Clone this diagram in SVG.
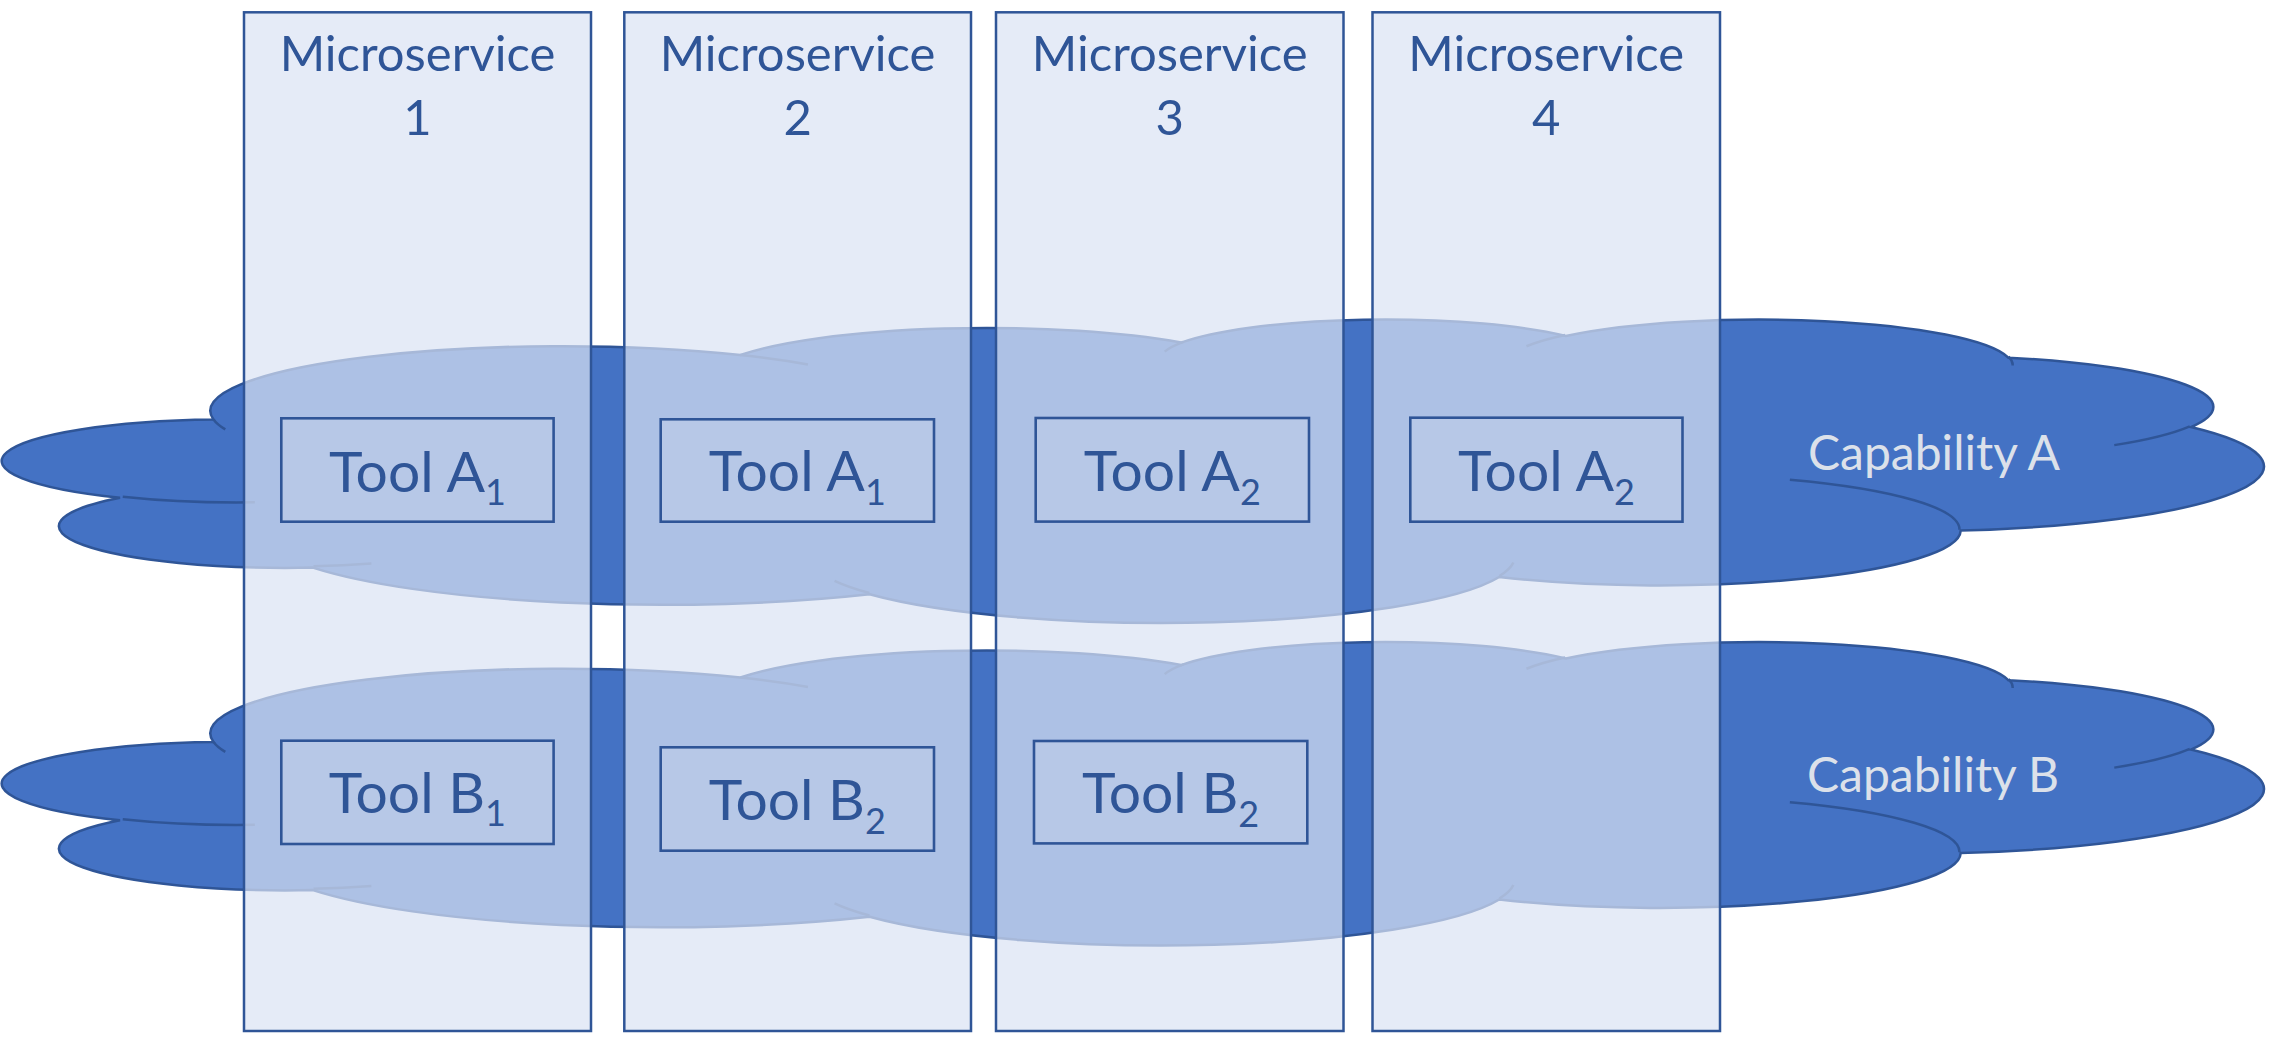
<svg xmlns="http://www.w3.org/2000/svg" width="2272" height="1042" viewBox="0 0 2272 1042">
<defs>
<style>
.cloud{fill:#4472C4;stroke:#2F5597;stroke-width:2.5;stroke-linejoin:miter}
.cloudline{fill:none;stroke:#2F5597;stroke-width:2.5}
.col{fill:#DAE3F3;fill-opacity:0.7;stroke:#2F5597;stroke-width:2.5}
.tool{fill:#DAE3F3;fill-opacity:0.22;stroke:#2F5597;stroke-width:2.6}
.ms{font-family:Lato,"Liberation Sans",sans-serif;font-size:49px;fill:#2F5597;text-anchor:middle}
.tt{font-family:Lato,"Liberation Sans",sans-serif;font-size:57px;fill:#2F5597;text-anchor:middle}
.sub{font-size:36px}
.cap{font-family:Lato,"Liberation Sans",sans-serif;font-size:48px;fill:#DCE1EA;text-anchor:middle}
</style>
</defs>
<rect width="2272" height="1042" fill="#FFFFFF"/>

<g id="capability-a">
<g transform="translate(10.1 318.5) scale(0.052148 0.0070226)">
<path class="cloud" vector-effect="non-scaling-stroke" d="M3900 14370 A6753 9190 0 0 1 14005 5202 A5333 7267 0 0 1 22456 3432 A4365 5945 0 0 1 29833 2480 A4857 6595 0 0 1 38318 5576 A5333 7273 0 0 1 41819 15459 A6775 9220 0 0 1 37405 30203 A5785 7867 0 0 1 28556 36813 A6752 9215 0 0 1 16481 39264 A7720 10543 0 0 1 5805 35470 A4360 5936 0 0 1 2108 25525 A4345 5945 0 0 1 3900 14370 Z"/>
<path class="cloudline" vector-effect="non-scaling-stroke" d="M4693 26177 A4345 5945 0 0 1 2160 25380 M6928 34899 A4360 5936 0 0 1 5817 35284 M16478 39090 A6752 9215 0 0 1 15810 37350 M28827 34751 A6752 9215 0 0 1 28560 36660 M34129 22954 A5785 7867 0 0 1 37381 30090 M41798 15354 A5333 7273 0 0 1 40350 18030 M38324 5426 A4857 6595 0 0 1 38401 6690 M29078 3952 A4857 6595 0 0 1 29820 2340 M22141 4720 A4365 5945 0 0 1 22500 3330 M14000 5192 A6753 9190 0 0 1 15300 6541 M4127 15789 A6753 9190 0 0 1 3900 14370"/>
</g>
<text class="cap" x="1934" y="470">Capability A</text>
</g>

<g id="capability-b">
<g transform="translate(10.1 641) scale(0.052148 0.0070226)">
<path class="cloud" vector-effect="non-scaling-stroke" d="M3900 14370 A6753 9190 0 0 1 14005 5202 A5333 7267 0 0 1 22456 3432 A4365 5945 0 0 1 29833 2480 A4857 6595 0 0 1 38318 5576 A5333 7273 0 0 1 41819 15459 A6775 9220 0 0 1 37405 30203 A5785 7867 0 0 1 28556 36813 A6752 9215 0 0 1 16481 39264 A7720 10543 0 0 1 5805 35470 A4360 5936 0 0 1 2108 25525 A4345 5945 0 0 1 3900 14370 Z"/>
<path class="cloudline" vector-effect="non-scaling-stroke" d="M4693 26177 A4345 5945 0 0 1 2160 25380 M6928 34899 A4360 5936 0 0 1 5817 35284 M16478 39090 A6752 9215 0 0 1 15810 37350 M28827 34751 A6752 9215 0 0 1 28560 36660 M34129 22954 A5785 7867 0 0 1 37381 30090 M41798 15354 A5333 7273 0 0 1 40350 18030 M38324 5426 A4857 6595 0 0 1 38401 6690 M29078 3952 A4857 6595 0 0 1 29820 2340 M22141 4720 A4365 5945 0 0 1 22500 3330 M14000 5192 A6753 9190 0 0 1 15300 6541 M4127 15789 A6753 9190 0 0 1 3900 14370"/>
</g>
<text class="cap" x="1933" y="791.5">Capability B</text>
</g>

<g id="microservice-1">
<rect class="col" x="244" y="12.3" width="347" height="1018.7"/>
<text class="ms" x="417.5" y="71">Microservice</text>
<text class="ms" x="417.5" y="135">1</text>
</g>
<g id="microservice-2">
<rect class="col" x="624.3" y="12.3" width="346.7" height="1018.7"/>
<text class="ms" x="797.6" y="71">Microservice</text>
<text class="ms" x="797.6" y="135">2</text>
</g>
<g id="microservice-3">
<rect class="col" x="996" y="12.3" width="347.5" height="1018.7"/>
<text class="ms" x="1169.7" y="71">Microservice</text>
<text class="ms" x="1169.7" y="135">3</text>
</g>
<g id="microservice-4">
<rect class="col" x="1372.5" y="12.3" width="347.5" height="1018.7"/>
<text class="ms" x="1546.2" y="71">Microservice</text>
<text class="ms" x="1546.2" y="135">4</text>
</g>

<g id="tool-a1-ms1">
<rect class="tool" x="281.3" y="418.3" width="272.3" height="103.4"/>
<text class="tt" x="417.4" y="491.7">Tool A<tspan class="sub" dy="13.5">1</tspan></text>
</g>
<g id="tool-b1-ms1">
<rect class="tool" x="281.3" y="740.7" width="272.3" height="103.3"/>
<text class="tt" x="417.4" y="812.7">Tool B<tspan class="sub" dy="13.5">1</tspan></text>
</g>
<g id="tool-a1-ms2">
<rect class="tool" x="660.7" y="419.3" width="273.3" height="102.4"/>
<text class="tt" x="797.3" y="491.3">Tool A<tspan class="sub" dy="13.5">1</tspan></text>
</g>
<g id="tool-b2-ms2">
<rect class="tool" x="660.7" y="747.3" width="273.3" height="103.4"/>
<text class="tt" x="797.3" y="820">Tool B<tspan class="sub" dy="13.5">2</tspan></text>
</g>
<g id="tool-a2-ms3">
<rect class="tool" x="1035.7" y="418" width="273.3" height="103.6"/>
<text class="tt" x="1172.3" y="491.3">Tool A<tspan class="sub" dy="13.5">2</tspan></text>
</g>
<g id="tool-b2-ms3">
<rect class="tool" x="1034" y="741" width="273.3" height="102.4"/>
<text class="tt" x="1170.6" y="813">Tool B<tspan class="sub" dy="13.5">2</tspan></text>
</g>
<g id="tool-a2-ms4">
<rect class="tool" x="1410.3" y="417.7" width="272.2" height="104"/>
<text class="tt" x="1546.4" y="491.3">Tool A<tspan class="sub" dy="13.5">2</tspan></text>
</g>
</svg>
